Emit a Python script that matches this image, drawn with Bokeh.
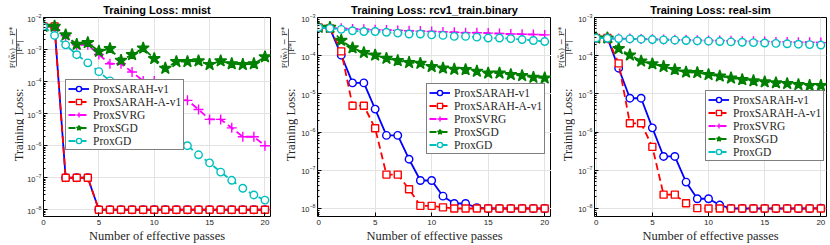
import math
from bokeh.plotting import figure
from bokeh.layouts import row
from bokeh.models import (Range1d, Label, Legend, LegendItem, BoxAnnotation, FixedTicker)
from bokeh.embed import file_html
from bokeh.resources import INLINE

# ---------------- data ----------------
passes = [0, 1, 2, 3, 4, 5, 6, 7, 8, 9, 10, 11, 12, 13, 14, 15, 16, 17, 18, 19, 20]
method_names = ["ProxSARAH-v1", "ProxSARAH-A-v1", "ProxSVRG", "ProxSGD", "ProxGD"]
x_ticks = [0, 5, 10, 15, 20]

mnist_sarah_v1 = [5.3e-3, 5.3e-3, 1e-7, 1e-7, 1e-7, 1e-8, 1e-8, 1e-8, 1e-8, 1e-8, 1e-8,
                  1e-8, 1e-8, 1e-8, 1e-8, 1e-8, 1e-8, 1e-8, 1e-8, 1e-8, 1e-8]
mnist_sarah_a = [5.3e-3, 5.3e-3, 1e-7, 1e-7, 1e-7, 1e-8, 1e-8, 1e-8, 1e-8, 1e-8, 1e-8,
                 1e-8, 1e-8, 1e-8, 1e-8, 1e-8, 1e-8, 1e-8, 1e-8, 1e-8, 1e-8]
mnist_svrg = [5.3e-3, 5.3e-3, 2.7e-3, 1.4e-3, 1.4e-3, 7e-4, 3.6e-4, 3.6e-4, 2e-4, 1.05e-4, 1.05e-4,
              5e-5, 2.7e-5, 2.6e-5, 1.35e-5, 6.6e-6, 6.6e-6, 3.6e-6, 1.9e-6, 1.9e-6, 1e-6]
mnist_sgd = [5.3e-3, 5.3e-3, 2.85e-3, 1.45e-3, 1.63e-3, 8.8e-4, 1.06e-3, 4.6e-4, 6.9e-4, 1.1e-3, 5.2e-4,
             2.6e-4, 4.2e-4, 4.2e-4, 4.4e-4, 3.4e-4, 4.4e-4, 3.6e-4, 3.4e-4, 3.6e-4, 5.9e-4]
mnist_gd = [5.3e-3, 2.75e-3, 1.4e-3, 6.9e-4, 3.85e-4, 2.04e-4, 1.05e-4, 5.4e-5, 2.8e-5, 1.4e-5, 7.2e-6,
            3.7e-6, 1.9e-6, 1e-6, 5.2e-7, 2.9e-7, 1.5e-7, 8.3e-8, 4.7e-8, 2.9e-8, 2e-8]

rcv1_sarah_v1 = [5.5e-4, 5.2e-4, 1.03e-4, 1.94e-5, 1.94e-5, 4e-6, 8.2e-7, 8.2e-7, 1.95e-7, 5.4e-8, 5.4e-8,
                 2.1e-8, 1.35e-8, 1.35e-8, 1.05e-8, 1e-8, 1e-8, 1e-8, 1e-8, 1e-8, 1e-8]
rcv1_sarah_a = [5.5e-4, 5.2e-4, 1.3e-4, 4.9e-6, 4.9e-6, 1.26e-6, 7.7e-8, 7.7e-8, 3.2e-8, 1.17e-8, 1.17e-8,
                1.07e-8, 1e-8, 1e-8, 1e-8, 1e-8, 1e-8, 1e-8, 1e-8, 1e-8, 1e-8]
rcv1_svrg = [5.4e-4, 5.3e-4, 5.2e-4, 5.0e-4, 4.9e-4, 4.8e-4, 4.7e-4, 4.6e-4, 4.5e-4, 4.4e-4, 4.3e-4,
             4.2e-4, 4.1e-4, 4.0e-4, 4.0e-4, 3.9e-4, 3.8e-4, 3.7e-4, 3.65e-4, 3.6e-4, 3.5e-4]
rcv1_sgd = [5.5e-4, 5.5e-4, 2.5e-4, 1.6e-4, 1.2e-4, 1.03e-4, 8.5e-5, 7.4e-5, 6.6e-5, 6.3e-5, 5.2e-5,
            4.7e-5, 4.4e-5, 4.3e-5, 3.9e-5, 3.5e-5, 3.5e-5, 3.2e-5, 3.0e-5, 2.7e-5, 2.6e-5]
rcv1_gd = [5.5e-4, 5.2e-4, 4.9e-4, 4.5e-4, 4.3e-4, 4.3e-4, 4.1e-4, 3.9e-4, 3.7e-4, 3.7e-4, 3.5e-4,
           3.4e-4, 3.2e-4, 3.2e-4, 3.06e-4, 2.9e-4, 2.9e-4, 2.8e-4, 2.65e-4, 2.5e-4, 2.35e-4]

realsim_sarah_v1 = [2.9e-4, 2.9e-4, 4.7e-5, 7.7e-6, 7.7e-6, 1.29e-6, 2.3e-7, 2.3e-7, 4.9e-8, 1.8e-8, 1.8e-8,
                    1.23e-8, 1e-8, 1e-8, 1e-8, 1e-8, 1e-8, 1e-8, 1e-8, 1e-8, 1.02e-8]
realsim_sarah_a = [2.9e-4, 2.9e-4, 6.3e-5, 1.7e-6, 1.7e-6, 4.1e-7, 2.3e-8, 2.3e-8, 1.37e-8, 1.02e-8, 1e-8,
                   1e-8, 1e-8, 1e-8, 1e-8, 1e-8, 1e-8, 1e-8, 1e-8, 1e-8, 1e-8]
realsim_svrg = [2.9e-4, 2.85e-4, 2.8e-4, 2.8e-4, 2.75e-4, 2.7e-4, 2.65e-4, 2.6e-4, 2.6e-4, 2.55e-4, 2.5e-4,
                2.5e-4, 2.45e-4, 2.4e-4, 2.4e-4, 2.35e-4, 2.3e-4, 2.3e-4, 2.25e-4, 2.25e-4, 2.2e-4]
realsim_sgd = [2.9e-4, 2.9e-4, 1.53e-4, 1.04e-4, 7.2e-5, 6.1e-5, 5.2e-5, 4.3e-5, 3.7e-5, 3.6e-5, 3.2e-5,
               2.9e-5, 2.6e-5, 2.35e-5, 2.2e-5, 2.05e-5, 1.94e-5, 1.86e-5, 1.75e-5, 1.65e-5, 1.65e-5]
realsim_gd = [2.9e-4, 2.85e-4, 2.8e-4, 2.75e-4, 2.7e-4, 2.65e-4, 2.6e-4, 2.55e-4, 2.5e-4, 2.45e-4, 2.4e-4,
              2.35e-4, 2.3e-4, 2.25e-4, 2.2e-4, 2.15e-4, 2.1e-4, 2.05e-4, 2.0e-4, 1.95e-4, 1.9e-4]

# ---------------- styles ----------------
STYLES = [
    dict(color="#0000FF", dash="solid", marker="circle", size=7.5, fill="white"),
    dict(color="#FF0000", dash="7 4", marker="square", size=7, fill="white"),
    dict(color="#FF00FF", dash="7 4", marker="cross", size=10, fill="#FF00FF"),
    dict(color="#008000", dash="7 4", marker="star", size=12.5, fill="#008000"),
    dict(color="#00BFBF", dash="7 4", marker="circle", size=7.5, fill="white"),
]
TXT = "#262626"
H = 245


def ylabel_fig(width, off):
    """Narrow strip holding the rotated y-axis label; off = frame_left - strip_left."""
    f = figure(width=width, height=H, x_range=Range1d(0, width), y_range=Range1d(H, 0),
               x_axis_location=None, y_axis_location=None, min_border=0,
               output_backend="svg", toolbar_location=None)
    f.outline_line_color = None
    f.xgrid.visible = False
    f.ygrid.visible = False
    f.background_fill_color = "white"
    f.border_fill_color = "white"
    f.add_layout(Label(x=off - 24, y=177, angle=math.pi / 2, text="Training Loss:",
                       text_font="Liberation Serif", text_font_size="12.5px",
                       text_align="left", text_baseline="alphabetic", text_color=TXT))
    f.add_layout(Label(x=off - 30.3, y=37, angle=math.pi / 2, text="F(w\u0303\u209c) \u2212 F*",
                       text_font="DejaVu Serif", text_font_size="8px",
                       text_align="center", text_baseline="middle", text_color=TXT))
    f.add_layout(BoxAnnotation(left=off - 26.4, right=off - 25.7, top=14, bottom=60,
                               fill_color=TXT, fill_alpha=1, line_color=None))
    f.add_layout(Label(x=off - 22.6, y=37, angle=math.pi / 2, text="|F*|",
                       text_font="DejaVu Serif", text_font_size="7.5px",
                       text_align="center", text_baseline="middle", text_color=TXT))
    return f


def make_panel(title, series, width, left, right, xr, ytop, legend_loc):
    p = figure(width=width, height=H, x_range=Range1d(*xr),
               y_range=Range1d(10 ** -8.21, ytop), y_axis_type="log",
               output_backend="svg", toolbar_location=None, title=title,
               min_border_left=left, min_border_right=right,
               min_border_top=15, min_border_bottom=28)
    p.title.align = "center"
    p.title.text_font = "Liberation Sans"
    p.title.text_font_style = "bold"
    p.title.text_font_size = "11px"
    p.title.text_color = "black"
    p.title.standoff = 3
    p.title.offset = 0
    p.outline_line_color = "black"
    p.outline_line_width = 1
    p.background_fill_color = "white"
    p.border_fill_color = "white"

    top_exp = int(round(math.log10(ytop)))
    yt = [10.0 ** e for e in range(-8, top_exp + 1)]
    ymin = [k * 10.0 ** e for e in range(-9, top_exp) for k in range(2, 10)]
    yticker = FixedTicker(ticks=yt, minor_ticks=ymin)
    xticker = FixedTicker(ticks=x_ticks)

    xa = p.xaxis[0]
    xa.ticker = xticker
    xa.major_tick_in = 4
    xa.major_tick_out = 0
    xa.minor_tick_in = 0
    xa.minor_tick_out = 0
    xa.axis_line_color = None
    xa.major_label_text_font = "Liberation Sans"
    xa.major_label_text_font_size = "8px"
    xa.major_label_text_color = TXT
    xa.major_label_standoff = 3
    xa.axis_label = "Number of effective passes"
    xa.axis_label_text_font = "Liberation Serif"
    xa.axis_label_text_font_style = "normal"
    xa.axis_label_text_font_size = "12.5px"
    xa.axis_label_text_color = TXT
    xa.axis_label_standoff = 1

    ya = p.yaxis[0]
    ya.ticker = yticker
    ya.major_tick_in = 4
    ya.major_tick_out = 0
    ya.minor_tick_in = 2
    ya.minor_tick_out = 0
    ya.axis_line_color = None
    ya.major_label_text_font = "Liberation Sans"
    ya.major_label_text_font_size = "7.5px"
    ya.major_label_text_color = TXT
    ya.major_label_standoff = 2

    p.xgrid.ticker = xticker
    p.ygrid.ticker = yticker
    for g in (p.xgrid[0], p.ygrid[0]):
        g.grid_line_color = "#e3e3e3"
        g.grid_line_width = 1

    items = []
    for name, vals, st in zip(method_names, series, STYLES):
        lr = p.line(passes, vals, line_color=st["color"], line_width=1.8, line_dash=st["dash"])
        sr = p.scatter(passes, vals, marker=st["marker"], size=st["size"], line_color=st["color"],
                       fill_color=st["fill"], line_width=1.4)
        items.append(LegendItem(label=name, renderers=[lr, sr]))

    lg = Legend(items=items, location=legend_loc, border_line_color="black", border_line_width=1,
                background_fill_color="white", background_fill_alpha=1.0,
                label_text_font="Liberation Serif", label_text_font_size="11.5px",
                label_text_line_height=1.0,
                label_text_color=TXT, label_height=13, glyph_height=13, glyph_width=21,
                label_standoff=4, spacing=0, padding=2, margin=0)
    p.add_layout(lg)
    return p


L1 = ylabel_fig(24, 42)
p1 = make_panel("Training Loss: mnist",
                [mnist_sarah_v1, mnist_sarah_a, mnist_svrg, mnist_sgd, mnist_gd],
                250, 18, 4, (0, 20.5), 1e-2, (22, 66))
L2 = ylabel_fig(24, 40)
p2 = make_panel("Training Loss: rcv1_train.binary",
                [rcv1_sarah_v1, rcv1_sarah_a, rcv1_svrg, rcv1_sgd, rcv1_gd],
                253, 16, 0, (-0.1, 20.6), 1e-3, (109, 62))
L3 = ylabel_fig(24, 40)
p3 = make_panel("Training Loss: real-sim",
                [realsim_sarah_v1, realsim_sarah_a, realsim_svrg, realsim_sgd, realsim_gd],
                255, 16, 4, (-0.15, 20.5), 1e-3, (111, 55))

layout = row(L1, p1, L2, p2, L3, p3, spacing=0,
             styles={"position": "absolute", "left": "0px", "top": "0px"})

open("out.html", "w").write(file_html(layout, INLINE))
